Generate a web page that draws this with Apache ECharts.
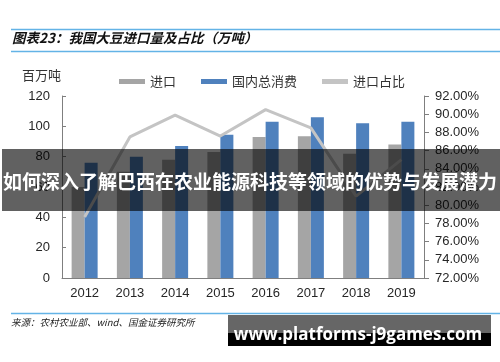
<!DOCTYPE html>
<html>
<head>
<meta charset="utf-8">
<script src="https://cdn.jsdelivr.net/npm/echarts@6/dist/echarts.min.js"></script>
<style>
html,body{margin:0;padding:0;background:#fff;}
#c{width:500px;height:362px;}
</style>
</head>
<body>
<div id="c"></div>
<script>
const categories = ['2012','2013','2014','2015','2016','2017','2018','2019'];
const importVals = [60, 70, 78, 83, 93, 93.5, 82, 88];
const consumptionVals = [76, 80, 87, 94.5, 103, 106, 102, 103];
const ratioVals = [78.7, 87.5, 89.9, 87.6, 90.5, 88.5, 81, 85];
const leftTicks = {min: 0, max: 120, interval: 20};
const rightTicks = {min: 72, max: 92, interval: 2};
const seriesNames = ['进口', '国内总消费', '进口占比'];
const titleText = '图表23：我国大豆进口量及占比（万吨）';
const unitText = '百万吨';
const sourceText = '来源：农村农业部、wind、国金证券研究所';
const bannerText = '如何深入了解巴西在农业能源科技等领域的优势与发展潜力';
const watermarkText = 'www.platforms-j9games.com';

const font = 'Liberation Sans, Arial, sans-serif';
const cjk = 'Noto Sans CJK SC, sans-serif';
const chart = echarts.init(document.getElementById('c'), null, {renderer: 'canvas'});
chart.setOption({
  animation: false,
  backgroundColor: '#fff',
  grid: {left: 62, right: 76, top: 96, bottom: 84},
  legend: {
    left: 114, top: 70, itemWidth: 26, itemHeight: 5, itemGap: 25, icon: 'rect',
    textStyle: {fontSize: 13, color: '#333', fontFamily: cjk},
    data: seriesNames
  },
  xAxis: {
    type: 'category', data: categories, boundaryGap: true,
    axisLine: {lineStyle: {color: '#7f7f7f', width: 1}},
    axisTick: {inside: true, length: 4, lineStyle: {color: '#7f7f7f'}},
    axisLabel: {fontSize: 13, color: '#262626', fontFamily: font, margin: 9},
    splitLine: {show: false}
  },
  yAxis: [
    {type: 'value', min: leftTicks.min, max: leftTicks.max, interval: leftTicks.interval,
     axisLine: {show: true, lineStyle: {color: '#7f7f7f'}},
     axisTick: {show: true, inside: true, length: 4, lineStyle: {color: '#7f7f7f'}},
     axisLabel: {fontSize: 13, color: '#262626', fontFamily: font, margin: 12},
     splitLine: {show: false}},
    {type: 'value', min: rightTicks.min, max: rightTicks.max, interval: rightTicks.interval,
     axisLine: {show: true, lineStyle: {color: '#7f7f7f'}},
     axisTick: {show: true, inside: false, length: 5, lineStyle: {color: '#7f7f7f'}},
     axisLabel: {fontSize: 13, color: '#262626', fontFamily: font, margin: 11,
       formatter: v => v.toFixed(2) + '%'},
     splitLine: {show: false}}
  ],
  series: [
    {name: seriesNames[0], type: 'bar', data: importVals, barWidth: 13, barGap: '0%',
     itemStyle: {color: '#a5a5a5'}},
    {name: seriesNames[1], type: 'bar', data: consumptionVals, barWidth: 13,
     itemStyle: {color: '#4f81bd'}},
    {name: seriesNames[2], type: 'line', yAxisIndex: 1, data: ratioVals, showSymbol: false,
     symbol: 'none', lineStyle: {color: '#c4c4c4', width: 3}, itemStyle: {color: '#c4c4c4'}, z: 5}
  ],
  graphic: [
    {type: 'line', shape: {x1: 11, y1: 29.5, x2: 500, y2: 29.5}, style: {stroke: '#63b3e6', lineWidth: 1.5}},
    {type: 'line', shape: {x1: 11, y1: 51.5, x2: 500, y2: 51.5}, style: {stroke: '#63b3e6', lineWidth: 1.5}},
    {type: 'text', x: 12, y: 38, style: {text: titleText, fill: '#111', font: 'italic bold 13.5px ' + cjk, textVerticalAlign: 'middle'}},
    {type: 'text', x: 22, y: 75, style: {text: unitText, fill: '#333', font: '13px ' + cjk, textVerticalAlign: 'middle'}},
    {type: 'line', shape: {x1: 11, y1: 313.5, x2: 500, y2: 313.5}, style: {stroke: '#63b3e6', lineWidth: 1.5}},
    {type: 'text', x: 11, y: 322, style: {text: sourceText, fill: '#222', font: 'italic 9.5px ' + cjk, textVerticalAlign: 'middle'}},
    {type: 'rect', z: 100, shape: {x: 2, y: 149, width: 498, height: 62}, style: {fill: 'rgba(0,0,0,0.62)'}},
    {type: 'text', z: 101, x: 3, y: 182, style: {text: bannerText, fill: '#fff', font: 'bold 19px ' + cjk, textVerticalAlign: 'middle'}},
    {type: 'rect', z: 100, shape: {x: 228, y: 315, width: 263, height: 18}, style: {fill: '#666666'}},
    {type: 'rect', z: 100, shape: {x: 228, y: 333, width: 263, height: 13}, style: {fill: '#000000'}},
    {type: 'text', z: 101, x: 358, y: 335, style: {text: watermarkText, fill: '#fff', font: 'bold 17px "Open Sans", sans-serif', textAlign: 'center', textVerticalAlign: 'middle'}}
  ]
});
</script>
</body>
</html>
